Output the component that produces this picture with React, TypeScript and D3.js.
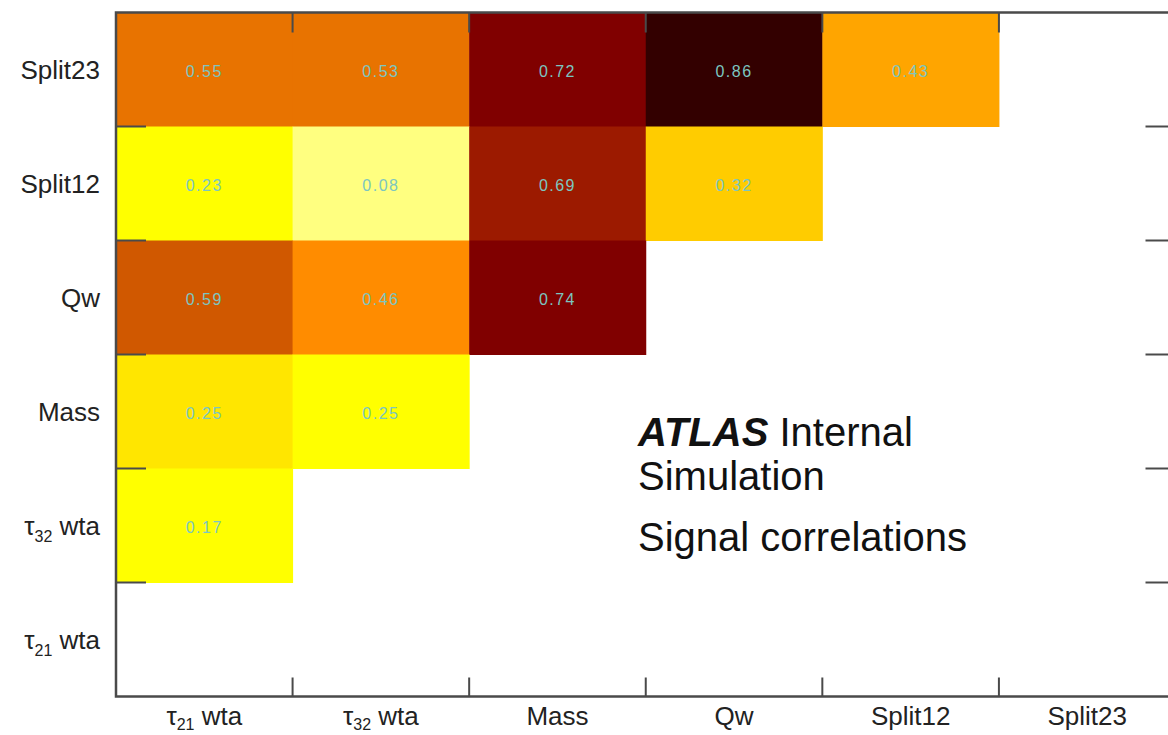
import React from "react";
import * as d3 from "d3";

// Variables along the horizontal axis (left to right)
const columnVars = ["τ21 wta", "τ32 wta", "Mass", "Qw", "Split12", "Split23"];
// Variables along the vertical axis (top to bottom)
const rowVars = ["Split23", "Split12", "Qw", "Mass", "τ32 wta", "τ21 wta"];

// Correlation coefficients per row, starting at the first column
const corrSplit23 = [0.55, 0.53, 0.72, 0.86, 0.43];
const corrSplit12 = [0.23, 0.08, 0.69, 0.32];
const corrQw = [0.59, 0.46, 0.74];
const corrMass = [0.252, 0.248];
const corrTau32 = [0.17];
const corrTau21: number[] = [];

const rowValues = [corrSplit23, corrSplit12, corrQw, corrMass, corrTau32, corrTau21];

// Discrete "hot" palette levels
const colorLevels = [0.1, 0.25, 0.3, 0.4, 0.45, 0.5, 0.57, 0.65, 0.7, 0.8];
const colorSteps = [
  "#ffff80", "#ffff00", "#ffe600", "#ffcc00", "#ffa500", "#ff8c00",
  "#e87300", "#d05800", "#9c1a00", "#800000", "#330000",
];

const W = 1168;
const H = 735;
const frame = { left: 116, right: 1175.5, top: 12.5, bottom: 696.5 };
const labelFont = "'Liberation Sans', Arial, Helvetica, sans-serif";
const labelSize = 26;

function VarLabel({
  name, x, y, anchor, subShift,
}: { name: string; x: number; y: number; anchor: string; subShift: number }) {
  const m = /^τ(\d+)(.*)$/.exec(name);
  if (!m) {
    return (
      <text x={x} y={y} textAnchor={anchor} fontFamily={labelFont} fontSize={labelSize} fill="#222">
        {name}
      </text>
    );
  }
  return (
    <text x={x} y={y} textAnchor={anchor} fontFamily={labelFont} fontSize={labelSize} fill="#222">
      <tspan>τ</tspan>
      <tspan dy={subShift} fontSize={16}>{m[1]}</tspan>
      <tspan dy={-subShift}>{m[2]}</tspan>
    </text>
  );
}

export default function App() {
  const x = d3.scaleBand<string>().domain(columnVars).range([frame.left, frame.right]);
  const y = d3.scaleBand<string>().domain(rowVars).range([frame.top, frame.bottom]);
  const color = d3.scaleThreshold<number, string>().domain(colorLevels).range(colorSteps);

  const cells = rowVars.flatMap((rv, ri) =>
    rowValues[ri].map((v, ci) => ({ row: rv, col: columnVars[ci], value: v }))
  );

  const colEdges = columnVars.slice(1).map((c) => x(c)!);
  const rowEdges = rowVars.slice(1).map((r) => y(r)!);
  const bw = x.bandwidth();
  const bh = y.bandwidth();
  const tickStroke = "#4a4a4a";

  return (
    <svg width={W} height={H} style={{ position: "absolute", left: 0, top: 0, background: "#fff" }}>
      <rect x={0} y={0} width={W} height={H} fill="#fff" />
      {cells.map((c) => (
        <rect
          key={c.row + c.col}
          x={x(c.col)}
          y={y(c.row)}
          width={bw + 0.5}
          height={bh + 0.5}
          fill={color(c.value)}
        />
      ))}
      {cells.map((c) => (
        <text
          key={"t" + c.row + c.col}
          x={x(c.col)! + bw / 2}
          y={y(c.row)! + bh / 2 + 7}
          textAnchor="middle"
          fontFamily={labelFont}
          fontSize={16}
          letterSpacing={1.5}
          fill="#7cc6c0"
        >
          {c.value.toFixed(2)}
        </text>
      ))}

      {/* frame */}
      <rect
        x={frame.left}
        y={frame.top}
        width={frame.right - frame.left}
        height={frame.bottom - frame.top}
        fill="none"
        stroke={tickStroke}
        strokeWidth={2.5}
      />
      {/* ticks on the horizontal edges */}
      {colEdges.map((cx) => (
        <g key={"cx" + cx}>
          <line x1={cx} x2={cx} y1={frame.bottom} y2={frame.bottom - 19} stroke={tickStroke} strokeWidth={2} />
          <line x1={cx} x2={cx} y1={frame.top} y2={frame.top + 20} stroke={tickStroke} strokeWidth={2} />
        </g>
      ))}
      {/* ticks on the vertical edges */}
      {rowEdges.map((ry) => (
        <g key={"ry" + ry}>
          <line x1={frame.left} x2={frame.left + 30} y1={ry} y2={ry} stroke={tickStroke} strokeWidth={2} />
          <line x1={frame.right} x2={frame.right - 30} y1={ry} y2={ry} stroke={tickStroke} strokeWidth={2} />
        </g>
      ))}

      {/* axis labels */}
      {columnVars.map((c) => (
        <VarLabel key={"xl" + c} name={c} x={x(c)! + bw / 2} y={725} anchor="middle" subShift={5} />
      ))}
      {rowVars.map((r) => (
        <VarLabel key={"yl" + r} name={r} x={100} y={y(r)! + bh / 2 + 9} anchor="end" subShift={7} />
      ))}

      {/* plot annotation */}
      <text x={638} y={446} fontFamily={labelFont} fontSize={40} fill="#111">
        <tspan fontWeight="bold" fontStyle="italic">ATLAS</tspan>
        <tspan> Internal</tspan>
      </text>
      <text x={638} y={490} fontFamily={labelFont} fontSize={40} fill="#111">
        Simulation
      </text>
      <text x={638} y={551} fontFamily={labelFont} fontSize={40} fill="#111">
        Signal correlations
      </text>
    </svg>
  );
}
